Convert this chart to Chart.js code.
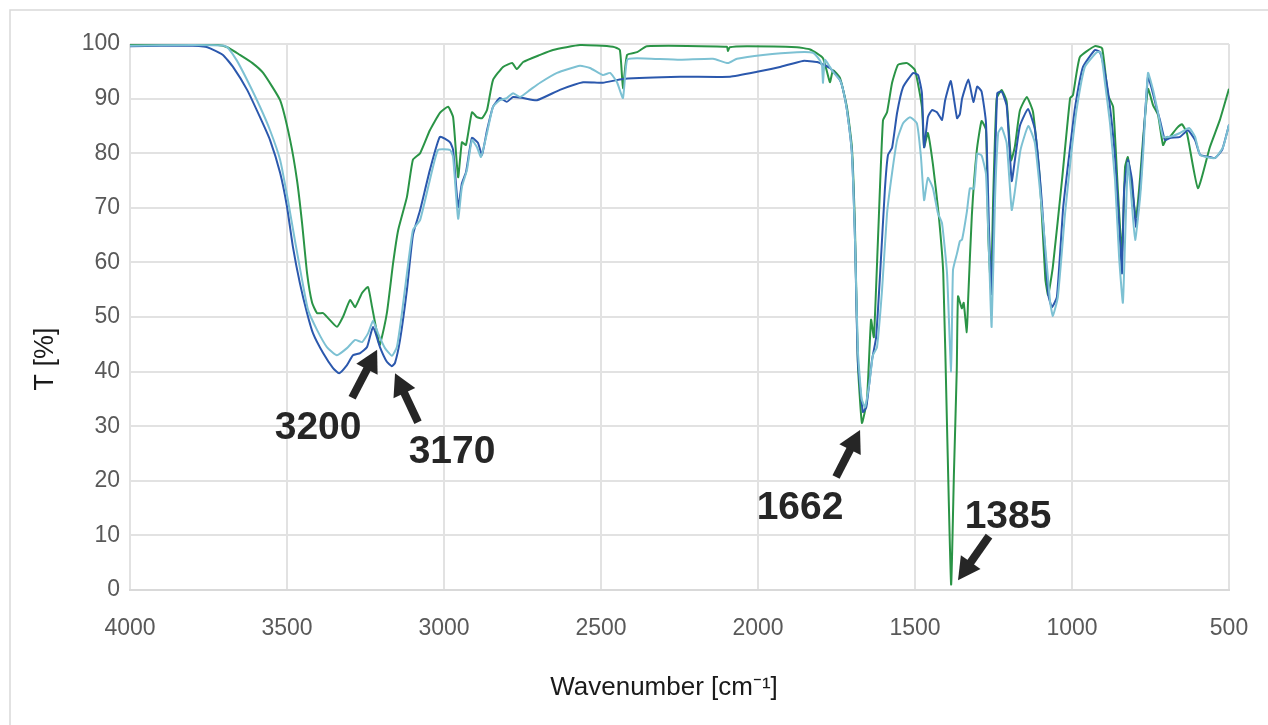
<!DOCTYPE html>
<html>
<head>
<meta charset="utf-8">
<script src="https://cdn.jsdelivr.net/npm/chart.js@4.4.1/dist/chart.umd.min.js"></script>
<style>
  html, body { margin: 0; padding: 0; background: #fff; overflow: hidden; }
  canvas { display: block; }
</style>
</head>
<body>
<canvas id="ir" width="1268" height="725"></canvas>
<script>
// ── spectrum data (wavenumber in cm-1, transmittance in %) ──────────
const greenWn = [4000, 3900, 3800, 3720, 3690, 3650, 3610, 3576, 3522, 3490, 3468, 3452, 3436, 3420, 3404, 3385, 3369, 3341, 3322, 3299, 3283, 3261, 3242, 3229, 3207, 3204, 3182, 3162, 3146, 3118, 3099, 3076, 3045, 3013, 2987, 2971, 2955, 2943, 2930, 2911, 2895, 2879, 2863, 2844, 2812, 2783, 2768, 2748, 2694, 2653, 2567, 2462, 2440, 2430, 2417, 2385, 2354, 2099, 2096, 2090, 2035, 1876, 1834, 1793, 1771, 1761, 1739, 1717, 1701, 1691, 1682, 1669, 1653, 1640, 1631, 1618, 1602, 1589, 1573, 1554, 1525, 1500, 1478, 1471, 1459, 1443, 1425, 1410, 1398, 1385, 1376, 1367, 1363, 1351, 1345, 1335, 1331, 1319, 1303, 1288, 1274, 1267, 1258, 1251, 1240, 1224, 1208, 1194, 1182, 1166, 1144, 1124, 1102, 1085, 1076, 1061, 1032, 1006, 997, 975, 927, 904, 885, 869, 854, 841, 831, 822, 815, 796, 783, 774, 758, 742, 726, 710, 697, 691, 666, 650, 634, 599, 561, 529, 500];
const greenT  = [99.8, 99.9, 99.9, 99.8, 99.4, 98, 96.5, 94.7, 89.7, 82.4, 75, 67.2, 58, 52.6, 50.7, 50.7, 49.8, 48.2, 50, 53.1, 51.8, 54.4, 55.5, 51.8, 45.2, 44.9, 50.7, 59.9, 65.9, 72, 78.8, 80, 84.2, 87.4, 88.5, 86.6, 75.6, 82, 81.5, 87.5, 86.6, 86.4, 87.9, 93.4, 95.8, 96.5, 95.4, 96.7, 98, 98.9, 99.8, 99.5, 98.9, 91.9, 98, 98.5, 99.6, 99.5, 98.7, 99.4, 99.6, 99.4, 99, 97.4, 93, 95.2, 93.8, 88.5, 81.1, 65.9, 41.6, 30.6, 34.8, 49.5, 46.3, 64.1, 86, 87.5, 92.9, 96.2, 96.5, 95.2, 88.5, 81.1, 83.7, 78, 69, 58, 30, 1, 21.4, 40.3, 53.8, 51.6, 52.6, 47.2, 52.9, 68.6, 80.6, 85.9, 84.3, 65.5, 55, 71.8, 90, 91.6, 89.4, 78.7, 81.2, 87.8, 90.3, 87.5, 74.9, 57, 54, 59.2, 75, 90.1, 90.6, 97.6, 99.6, 99.2, 90.6, 88.5, 73.3, 61.7, 77.5, 79.3, 76.4, 68.3, 75.6, 82.4, 91.8, 88.8, 87, 81.5, 83, 82.8, 84.6, 85.3, 83.7, 73.6, 81.1, 86.1, 91.8];

const blueWn = [4000, 3800, 3760, 3745, 3704, 3672, 3627, 3586, 3554, 3522, 3500, 3481, 3459, 3436, 3417, 3385, 3354, 3334, 3309, 3290, 3267, 3245, 3226, 3204, 3182, 3166, 3156, 3140, 3118, 3099, 3076, 3045, 3013, 2981, 2971, 2955, 2943, 2930, 2911, 2892, 2879, 2863, 2844, 2822, 2800, 2780, 2748, 2704, 2631, 2557, 2494, 2430, 2248, 2089, 2003, 1930, 1857, 1812, 1771, 1739, 1729, 1717, 1701, 1691, 1682, 1666, 1655, 1637, 1624, 1611, 1596, 1586, 1573, 1557, 1538, 1506, 1490, 1478, 1471, 1459, 1446, 1430, 1414, 1404, 1386, 1366, 1357, 1350, 1330, 1314, 1302, 1288, 1274, 1264, 1256, 1248, 1238, 1224, 1208, 1192, 1182, 1166, 1140, 1118, 1097, 1076, 1064, 1048, 1028, 1006, 990, 965, 927, 911, 895, 879, 863, 847, 841, 834, 822, 809, 796, 783, 774, 758, 745, 729, 720, 704, 688, 656, 631, 608, 592, 561, 545, 522, 500];
const blueT  = [99.6, 99.7, 99.5, 99.2, 98, 95.8, 91.6, 86.6, 82.4, 76.4, 70.2, 62.8, 56.2, 50.7, 47, 43.4, 40.7, 39.7, 41.2, 43, 43.4, 44.5, 48.2, 44.5, 41.8, 41, 41.6, 45.8, 55, 65, 69.6, 76.9, 83, 82, 80.6, 70.1, 74.5, 76.5, 82.8, 81.9, 79.7, 84.2, 88.5, 90.1, 89.4, 90.3, 90.1, 89.7, 91.6, 93, 92.9, 93.6, 94, 94, 94.9, 95.8, 96.9, 96.7, 95.6, 93.4, 91.6, 88, 80, 64, 42, 32.6, 33.5, 42.1, 46.2, 58, 73.3, 79.7, 81, 87.4, 92.1, 94.7, 94.3, 91, 81.1, 86.6, 87.9, 87.5, 86.1, 89.7, 93.2, 86.4, 87.2, 90, 93.5, 89.4, 92.2, 91.3, 85.6, 65.5, 54.2, 71.8, 91, 91.3, 88.7, 74.9, 78.7, 85, 88.1, 84.3, 71.8, 54.2, 51.8, 53.7, 70.1, 81.1, 88.5, 95.8, 98.9, 98.5, 94.7, 88.5, 79.3, 64.1, 58, 73.3, 78.8, 75.1, 66.5, 73.3, 81.1, 94, 91.6, 87.9, 86.1, 82.4, 82.8, 83, 84.2, 82.4, 79.7, 79.3, 79.1, 80.6, 85.2];

const lightWn = [4000, 3800, 3700, 3688, 3660, 3627, 3586, 3554, 3522, 3497, 3475, 3452, 3433, 3404, 3373, 3341, 3309, 3283, 3261, 3242, 3226, 3210, 3188, 3166, 3150, 3134, 3118, 3099, 3076, 3045, 3019, 2981, 2971, 2955, 2943, 2927, 2911, 2895, 2882, 2863, 2844, 2822, 2800, 2780, 2758, 2726, 2694, 2640, 2567, 2535, 2494, 2471, 2449, 2430, 2417, 2385, 2248, 2143, 2096, 2067, 1984, 1876, 1825, 1803, 1796, 1793, 1787, 1771, 1761, 1739, 1729, 1717, 1701, 1691, 1682, 1670, 1659, 1645, 1634, 1621, 1605, 1589, 1573, 1557, 1538, 1516, 1494, 1481, 1471, 1459, 1443, 1427, 1414, 1398, 1385, 1379, 1366, 1357, 1350, 1335, 1325, 1312, 1302, 1288, 1274, 1263, 1256, 1245, 1235, 1224, 1208, 1192, 1182, 1164, 1139, 1118, 1091, 1070, 1061, 1045, 1022, 1000, 984, 959, 921, 908, 895, 879, 863, 850, 838, 831, 822, 812, 799, 783, 774, 758, 742, 726, 710, 688, 656, 627, 608, 592, 545, 519, 500];
const lightT  = [99.7, 99.8, 99.7, 99.3, 97, 93.4, 88.5, 84.2, 78.8, 71.4, 64.1, 56.8, 51.3, 47.6, 44.5, 43, 44.3, 45.8, 45.4, 47, 49.3, 47, 44.3, 42.9, 44.5, 50.7, 58, 65.9, 67.8, 75.1, 80.6, 80.6, 79.3, 68, 73.8, 76.9, 82.4, 81.1, 79.3, 83.7, 88.5, 89.7, 90.1, 91, 90.3, 91.6, 92.9, 94.7, 96, 95.6, 94.3, 94.7, 93, 90.1, 97.1, 97.4, 97.1, 97.3, 96.5, 97.3, 98, 98.5, 98.4, 97, 96, 92.9, 97.1, 95.8, 94.9, 93.4, 91.6, 88, 80, 64, 44, 35, 33.5, 38, 43, 44.5, 54.9, 69, 76.4, 82.4, 85.5, 86.6, 85.5, 79.3, 71.4, 75.5, 73.6, 69, 67.2, 58, 40, 58.6, 61.7, 63.9, 64.2, 69.2, 73.6, 73.5, 79.9, 79.6, 76.2, 59.2, 48.2, 71.8, 83.7, 84.7, 81.8, 69.6, 73, 80.6, 85, 81.8, 66.7, 52.9, 50.2, 53.7, 69, 81.1, 88.5, 95.8, 98.5, 98.4, 92.9, 85.5, 75.1, 61, 52.6, 64.1, 78.2, 72.7, 64.1, 72, 79.3, 94.7, 91.6, 87.4, 83, 83, 83.7, 84.6, 83, 79.7, 79.1, 81.1, 85.2];

// peak labels: arrow tip sits on (wn, T)
const peakLabels = ['3200', '3170', '1662', '1385'];
const peakWn     = [3213, 3156, 1675, 1363];
const peakT      = [44, 39.7, 29.3, 1.8];

// ── drawing layout ──────────────────────────────────────────────────
const arrowTail  = [[-25, 48], [23, 49], [-24, 47], [31, -44]];
const labelShift = [[-59, 78], [57, 79], [-60, 78], [50, -63]];
const FONT = '"Liberation Sans", Arial, sans-serif';

const pts = (xs, ys) => xs.map((x, i) => ({ x, y: ys[i] }));

function arrow(ctx, x0, y0, x1, y1) {
  const a = Math.atan2(y1 - y0, x1 - x0);
  const head = 22, half = 12;
  const bx = x1 - head * Math.cos(a), by = y1 - head * Math.sin(a);
  ctx.save();
  ctx.strokeStyle = '#262626';
  ctx.fillStyle = '#262626';
  ctx.lineWidth = 8;
  ctx.beginPath();
  ctx.moveTo(x0, y0);
  ctx.lineTo(bx + 2 * Math.cos(a), by + 2 * Math.sin(a));
  ctx.stroke();
  ctx.beginPath();
  ctx.moveTo(x1, y1);
  ctx.lineTo(bx + half * Math.sin(a), by - half * Math.cos(a));
  ctx.lineTo(bx - half * Math.sin(a), by + half * Math.cos(a));
  ctx.closePath();
  ctx.fill();
  ctx.restore();
}

const decor = {
  id: 'decor',
  beforeDraw(chart) {
    const ctx = chart.ctx;
    ctx.save();
    ctx.strokeStyle = '#d9d9d9';
    ctx.lineWidth = 1.5;
    ctx.strokeRect(10, 10, 1270, 730);
    ctx.restore();
  },
  afterDraw(chart) {
    const ctx = chart.ctx;
    const xs = chart.scales.x, ys = chart.scales.y;
    peakLabels.forEach((txt, i) => {
      const hx = xs.getPixelForValue(peakWn[i]);
      const hy = ys.getPixelForValue(peakT[i]);
      arrow(ctx, hx + arrowTail[i][0], hy + arrowTail[i][1], hx, hy);
      ctx.save();
      ctx.fillStyle = '#262626';
      ctx.font = 'bold 39px ' + FONT;
      ctx.textAlign = 'center';
      ctx.textBaseline = 'middle';
      ctx.fillText(txt, hx + labelShift[i][0], hy + labelShift[i][1]);
      ctx.restore();
    });

    // axis titles
    ctx.save();
    ctx.fillStyle = '#1a1a1a';
    ctx.font = '26px ' + FONT;
    ctx.textAlign = 'center';
    ctx.textBaseline = 'middle';
    ctx.fillText('Wavenumber [cm⁻¹]', 664, 688);
    ctx.translate(46, 359);
    ctx.rotate(-Math.PI / 2);
    ctx.font = '27px ' + FONT;
    ctx.fillText('T [%]', 0, 0);
    ctx.restore();
  }
};

const line = (data, color) => ({
  data, borderColor: color, borderWidth: 2, pointRadius: 0, tension: 0.15, fill: false
});

new Chart(document.getElementById('ir'), {
  type: 'line',
  data: {
    datasets: [
      line(pts(lightWn, lightT), '#7dc1d3'),
      line(pts(blueWn, blueT), '#2b58ad'),
      line(pts(greenWn, greenT), '#2a9446'),
    ],
  },
  options: {
    responsive: false,
    animation: false,
    events: [],
    layout: { padding: { top: 44, right: 39, left: 0, bottom: 0 } },
    plugins: { legend: { display: false }, tooltip: { enabled: false } },
    scales: {
      x: {
        type: 'linear', reverse: true, min: 500, max: 4000,
        afterFit: (s) => { s.height = 135; s.paddingRight = 0; },
        ticks: { stepSize: 500, color: '#595959', padding: 25, maxRotation: 0,
                 callback: (v) => String(v),
                 font: { size: 23, family: FONT } },
        grid: { color: '#e2e2e2', lineWidth: 2, drawTicks: false },
        border: { color: '#d9d9d9', width: 2 },
      },
      y: {
        min: 0, max: 100,
        afterFit: (s) => { s.width = 130; },
        ticks: { stepSize: 10, color: '#595959', padding: 10,
                 font: { size: 23, family: FONT } },
        grid: { color: '#e2e2e2', lineWidth: 2, drawTicks: false },
        border: { display: false },
      },
    },
  },
  plugins: [decor],
});
</script>
</body>
</html>
